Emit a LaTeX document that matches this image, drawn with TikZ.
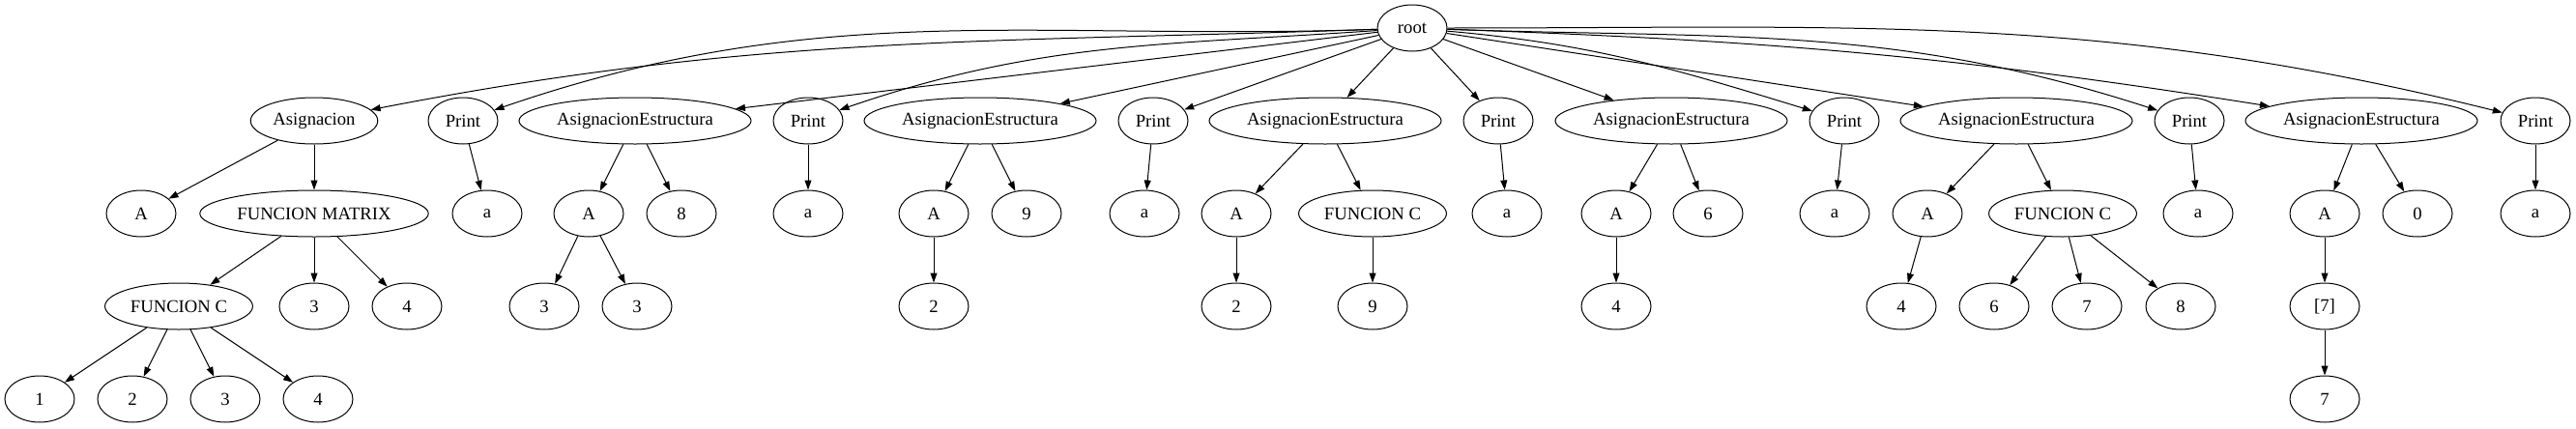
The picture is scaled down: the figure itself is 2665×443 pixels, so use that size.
\documentclass[tikz,border=0pt]{standalone}
\usepackage{fontspec}
\setmainfont{Liberation Serif}
\usetikzlibrary{shapes.geometric,arrows.meta,positioning}

\begin{document}
\begin{tikzpicture}[x=0.75pt, y=-0.75pt, node distance=72pt,
    ast/.style={ellipse, draw, line width=0.75pt, minimum width=54pt, minimum height=36pt, inner xsep=3pt, font=\fontsize{14}{16}\selectfont},
    link/.style={-{Triangle[length=7.5pt,width=5.2pt]}, line width=0.75pt}]
    \useasboundingbox (0,0) rectangle (2665,443);

    % root
    \node[ast](root) at (1461,29) {root};

    % first level
    \node[ast](asig) at (325,125) {Asignacion};
    \node[ast](pr1) at (479,125) {Print};
    \node[ast](ae1) at (657,125) {AsignacionEstructura};
    \node[ast](pr2) at (836,125) {Print};
    \node[ast](ae2) at (1014,125) {AsignacionEstructura};
    \node[ast](pr3) at (1193,125) {Print};
    \node[ast](ae3) at (1371,125) {AsignacionEstructura};
    \node[ast](pr4) at (1550,125) {Print};
    \node[ast](ae4) at (1729,125) {AsignacionEstructura};
    \node[ast](pr5) at (1908,125) {Print};
    \node[ast](ae5) at (2086,125) {AsignacionEstructura};
    \node[ast](pr6) at (2265,125) {Print};
    \node[ast](ae6) at (2443,125) {AsignacionEstructura};
    \node[ast](pr7) at (2623,125) {Print};

    % Asignacion
    \node[ast](asA) at (146,221) {A};
    \node[ast](fm)[below of=asig] {FUNCION MATRIX};
    \node[ast](fc) at (185,317) {FUNCION C};
    \node[ast](fm3)[below of=fm] {3};
    \node[ast](fm4) at (421,317) {4};
    \node[ast](fc1) at (41,413) {1};
    \node[ast](fc2) at (137,413) {2};
    \node[ast](fc3) at (233,413) {3};
    \node[ast](fc4) at (329,413) {4};

    % prints
    \node[ast](a1) at (504,221) {a};
    \node[ast](a2)[below of=pr2] {a};
    \node[ast](a3) at (1184,221) {a};
    \node[ast](a4) at (1559,221) {a};
    \node[ast](a5) at (1898,221) {a};
    \node[ast](a6) at (2274,221) {a};
    \node[ast](a7)[below of=pr7] {a};

    % AsignacionEstructura 1
    \node[ast](ae1A) at (609,221) {A};
    \node[ast](ae1v) at (705,221) {8};
    \node[ast](ae1A1) at (563,317) {3};
    \node[ast](ae1A2) at (659,317) {3};

    % AsignacionEstructura 2
    \node[ast](ae2A) at (966,221) {A};
    \node[ast](ae2v) at (1062,221) {9};
    \node[ast](ae2A2)[below of=ae2A] {2};

    % AsignacionEstructura 3
    \node[ast](ae3A) at (1279,221) {A};
    \node[ast](ae3f) at (1420,221) {FUNCION C};
    \node[ast](ae3A2)[below of=ae3A] {2};
    \node[ast](ae3f9)[below of=ae3f] {9};

    % AsignacionEstructura 4
    \node[ast](ae4A) at (1672,221) {A};
    \node[ast](ae4v) at (1767,221) {6};
    \node[ast](ae4A4)[below of=ae4A] {4};

    % AsignacionEstructura 5
    \node[ast](ae5A) at (1994,221) {A};
    \node[ast](ae5f) at (2134,221) {FUNCION C};
    \node[ast](ae5A4) at (1967,317) {4};
    \node[ast](ae5f6) at (2063,317) {6};
    \node[ast](ae5f7) at (2159,317) {7};
    \node[ast](ae5f8) at (2256,317) {8};

    % AsignacionEstructura 6
    \node[ast](ae6A) at (2405,221) {A};
    \node[ast](ae6v) at (2501,221) {0};
    \node[ast](ae6i)[below of=ae6A] {[7]};
    \node[ast](ae6i7)[below of=ae6i] {7};

    % root edges
    \draw[link] (root) to[out=182, in=11] (asig);
    \draw[link] (root) to[out=182, in=19] (pr1);
    \draw[link] (root) -- (ae1);
    \draw[link] (root) to[out=184, in=19] (pr2);
    \draw[link] (root) -- (ae2);
    \draw[link] (root) -- (pr3);
    \draw[link] (root) -- (ae3);
    \draw[link] (root) -- (pr4);
    \draw[link] (root) -- (ae4);
    \draw[link] (root) to[out=355, in=163] (pr5);
    \draw[link] (root) -- (ae5);
    \draw[link] (root) to[out=358, in=162] (pr6);
    \draw[link] (root) to[out=358, in=171] (ae6);
    \draw[link] (root) to[out=0, in=166] (pr7);

    % subtree edges
    \draw[link] (asig) -- (asA);
    \draw[link] (asig) -- (fm);
    \draw[link] (fm) -- (fc);
    \draw[link] (fm) -- (fm3);
    \draw[link] (fm) -- (fm4);
    \draw[link] (fc) -- (fc1);
    \draw[link] (fc) -- (fc2);
    \draw[link] (fc) -- (fc3);
    \draw[link] (fc) -- (fc4);
    \draw[link] (pr1) -- (a1);
    \draw[link] (pr2) -- (a2);
    \draw[link] (pr3) -- (a3);
    \draw[link] (pr4) -- (a4);
    \draw[link] (pr5) -- (a5);
    \draw[link] (pr6) -- (a6);
    \draw[link] (pr7) -- (a7);
    \draw[link] (ae1) -- (ae1A);
    \draw[link] (ae1) -- (ae1v);
    \draw[link] (ae1A) -- (ae1A1);
    \draw[link] (ae1A) -- (ae1A2);
    \draw[link] (ae2) -- (ae2A);
    \draw[link] (ae2) -- (ae2v);
    \draw[link] (ae2A) -- (ae2A2);
    \draw[link] (ae3) -- (ae3A);
    \draw[link] (ae3) -- (ae3f);
    \draw[link] (ae3A) -- (ae3A2);
    \draw[link] (ae3f) -- (ae3f9);
    \draw[link] (ae4) -- (ae4A);
    \draw[link] (ae4) -- (ae4v);
    \draw[link] (ae4A) -- (ae4A4);
    \draw[link] (ae5) -- (ae5A);
    \draw[link] (ae5) -- (ae5f);
    \draw[link] (ae5A) -- (ae5A4);
    \draw[link] (ae5f) -- (ae5f6);
    \draw[link] (ae5f) -- (ae5f7);
    \draw[link] (ae5f) -- (ae5f8);
    \draw[link] (ae6) -- (ae6A);
    \draw[link] (ae6) -- (ae6v);
    \draw[link] (ae6A) -- (ae6i);
    \draw[link] (ae6i) -- (ae6i7);
  \end{tikzpicture}
\end{document}
